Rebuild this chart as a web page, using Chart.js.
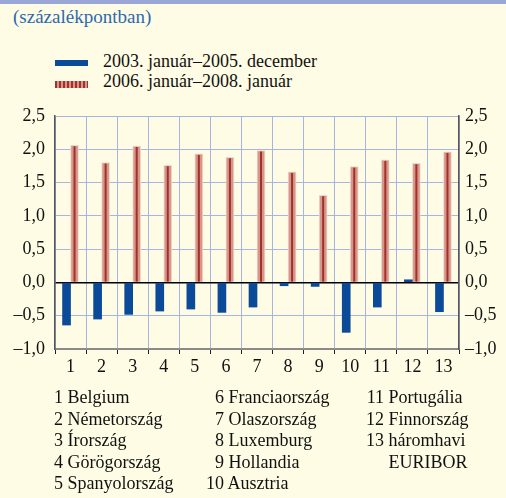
<!DOCTYPE html>
<html>
<head>
<meta charset="utf-8">
<script src="https://cdn.jsdelivr.net/npm/chart.js@4/dist/chart.umd.min.js"></script>
<style>
  html, body { margin: 0; padding: 0; }
  body { width: 506px; height: 498px; background: #fefce4; position: relative; overflow: hidden; color: #111;
         font-family: 'Liberation Serif', 'Times New Roman', serif; }
  #band { position: absolute; left: 0; top: 0; width: 506px; height: 4px; background: #9aa7d6; }
  #title { position: absolute; left: 13px; top: 6px; font-size: 19px; color: #2d69b0; }
  .leg { position: absolute; left: 55px; font-size: 18px; }
  .leg .mk { position: absolute; left: 0; width: 33px; }
  .leg .tx { position: absolute; left: 48px; white-space: nowrap; }
  #chart { position: absolute; left: 0; top: 0; }
  .item { position: absolute; font-size: 18px; white-space: nowrap; }
  .item .n { display: inline-block; text-align: right; }
</style>
</head>
<body>
<div id="band"></div>
<div id="title">(százalékpontban)</div>
<div id="legend"></div>
<canvas id="chart" width="506" height="498"></canvas>
<div id="notes"></div>
<script>
var categories = ['1', '2', '3', '4', '5', '6', '7', '8', '9', '10', '11', '12', '13'];
var seriesNames = ['2003. január–2005. december', '2006. január–2008. január'];
var period1 = [-0.64, -0.55, -0.48, -0.43, -0.40, -0.45, -0.37, -0.05, -0.06, -0.75, -0.37, 0.04, -0.44];
var period2 = [2.06, 1.80, 2.05, 1.76, 1.93, 1.88, 1.98, 1.66, 1.31, 1.74, 1.84, 1.79, 1.96];
var countries = ['Belgium', 'Németország', 'Írország', 'Görögország', 'Spanyolország',
    'Franciaország', 'Olaszország', 'Luxemburg', 'Hollandia', 'Ausztria',
    'Portugália', 'Finnország', 'háromhavi\nEURIBOR'];

var blue = '#0b4a98';
var salmon = '#d5978a';
var darkRed = '#a3302a';
var serif = "'Liberation Serif', 'Times New Roman', serif";

// legend (html)
var legend = document.getElementById('legend');
var legTops = [51, 71];
var markers = [
    'top:9px;height:6px;background:' + blue,
    'top:10px;height:7px;background:repeating-linear-gradient(90deg,' + darkRed + ' 0 2px,' + salmon + ' 2px 4px)'
];
seriesNames.forEach(function (name, i) {
    var d = document.createElement('div');
    d.className = 'leg';
    d.style.top = legTops[i] + 'px';
    d.innerHTML = '<div class="mk" style="' + markers[i] + '"></div><div class="tx">' + name + '</div>';
    legend.appendChild(d);
});

// country list (html), 3 columns of 5
var notes = document.getElementById('notes');
var colX = [54, 206, 366];
countries.forEach(function (c, i) {
    var col = Math.floor(i / 5), row = i % 5;
    var d = document.createElement('div');
    d.className = 'item';
    d.style.left = colX[col] + 'px';
    d.style.top = (387 + row * 21.5) + 'px';
    var parts = c.split('\n');
    var w = col == 0 ? 9 : 18;
    var html = '<span class="n" style="width:' + w + 'px">' + (i + 1) + '</span> ' + parts[0];
    if (parts.length > 1) {
        html += '<br><span class="n" style="width:' + w + 'px"></span> ' + parts[1];
        d.style.lineHeight = '21.5px';
    }
    d.innerHTML = html;
    notes.appendChild(d);
});

function fmt(v) {
    var s = Math.abs(v).toFixed(1).replace('.', ',');
    return (v < -0.001 ? '–' : '') + s;
}

// dark stripe down the middle of each red bar
var stripePlugin = {
    id: 'stripes',
    afterDatasetsDraw: function (chart) {
        var ctx = chart.ctx;
        var meta = chart.getDatasetMeta(1);
        ctx.save();
        ctx.strokeStyle = darkRed;
        ctx.lineWidth = 2;
        meta.data.forEach(function (el) {
            ctx.beginPath();
            ctx.moveTo(el.x, el.y + 1);
            ctx.lineTo(el.x, el.base);
            ctx.stroke();
        });
        ctx.restore();
    }
};

var tickFont = { family: serif, size: 18 };

new Chart(document.getElementById('chart').getContext('2d'), {
    type: 'bar',
    data: {
        labels: categories,
        datasets: [{
            label: seriesNames[0],
            data: period1,
            backgroundColor: blue,
            borderWidth: 0,
            barThickness: 8
        }, {
            label: seriesNames[1],
            data: period2,
            backgroundColor: salmon,
            borderColor: '#f2d6cc',
            borderWidth: 1,
            barThickness: 8
        }]
    },
    options: {
        responsive: false,
        animation: false,
        categoryPercentage: 0.56,
        layout: { padding: { top: 116, bottom: 119, left: 0, right: 0 } },
        plugins: { legend: { display: false }, tooltip: { enabled: false } },
        scales: {
            x: {
                offset: true,
                grid: { offset: true, color: '#a7b5e4', lineWidth: 1, drawTicks: true, tickLength: 5, tickColor: '#222' },
                border: { display: true, color: '#8a8a8a', width: 2 },
                ticks: { font: tickFont, color: '#111', padding: 2, maxRotation: 0 },
                afterFit: function (s) { s.height = 30; }
            },
            y: {
                position: 'left',
                min: -1, max: 2.5,
                grid: {
                    drawTicks: false,
                    color: function (c) { return c.tick && c.tick.value === 0 ? '#000' : '#a7b5e4'; },
                    lineWidth: function (c) { return c.tick && c.tick.value === 0 ? 1.5 : 1; }
                },
                border: { display: true, color: '#555', width: 1.5 },
                ticks: { stepSize: 0.5, font: tickFont, color: '#111', padding: 10, callback: fmt },
                afterFit: function (s) { s.width = 55; }
            },
            y2: {
                position: 'right',
                min: -1, max: 2.5,
                grid: { display: false, drawTicks: false },
                border: { display: true, color: '#555', width: 1.5 },
                ticks: { stepSize: 0.5, font: tickFont, color: '#111', padding: 6, callback: fmt },
                afterFit: function (s) { s.width = 47; }
            }
        }
    },
    plugins: [stripePlugin]
});
</script>
</body>
</html>
